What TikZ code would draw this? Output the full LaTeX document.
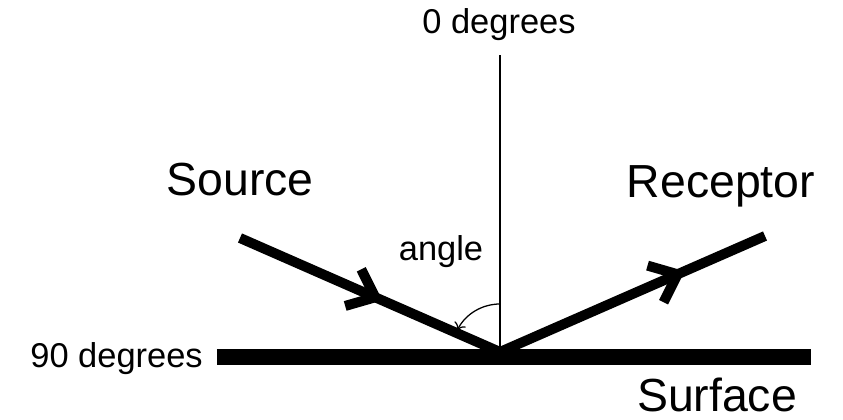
\documentclass[tikz,border=0pt]{standalone}
\usepackage{fontspec}
\setmainfont{Liberation Sans}
\usetikzlibrary{decorations.markings,arrows.meta}
\begin{document}
\begin{tikzpicture}[
  ray/.style={line width=7.1pt},
  txt/.style={inner sep=0pt,anchor=base},
  small/.style={txt,font=\fontsize{24.5}{29}\selectfont},
  large/.style={txt,font=\fontsize{33}{40}\selectfont},
  barb/.style={postaction={decorate},decoration={markings,
    mark=at position #1 with {\draw[line width=7.1pt] (-0.6,0.5)--(0,0)--(-0.6,-0.5);}}}
]
\useasboundingbox (-12.5,-1.675) rectangle (8.575,8.8);
\coordinate (hit) at (0,0);
\coordinate (src) at (-6.5,2.85);
\coordinate (rec) at (6.625,2.9);
\coordinate (top) at (0,7.425);
\coordinate (barL) at (-7.075,-0.125);
\coordinate (barR) at (7.775,-0.125);
% normal and surface
\draw[line width=1.4pt] (hit) -- (top);
\draw[line width=10.7pt] (barL) -- (barR);
% incoming and reflected rays
\draw[ray,barb=0.52] (src) -- (hit);
\draw[ray,barb=0.67] (hit) -- (rec);
\draw[line width=0.9pt,-{To[length=5pt,width=9pt]}] ([shift={(90:1.2)}]hit) arc (90:153:1.2);
% labels
\node[small] (zero) at (-0.025,7.95) {0 degrees};
\node[large] (source) at (-6.5,3.925) {Source};
\node[large] (receptor) at (5.525,3.875) {Receptor};
\node[small] (angle) at (-1.475,2.3) {angle};
\node[small,anchor=base east] (ninety) at (-7.425,-0.375) {90 degrees};
\node[large] (surface) at (5.425,-1.49) {Surface};
\end{tikzpicture}
\end{document}
